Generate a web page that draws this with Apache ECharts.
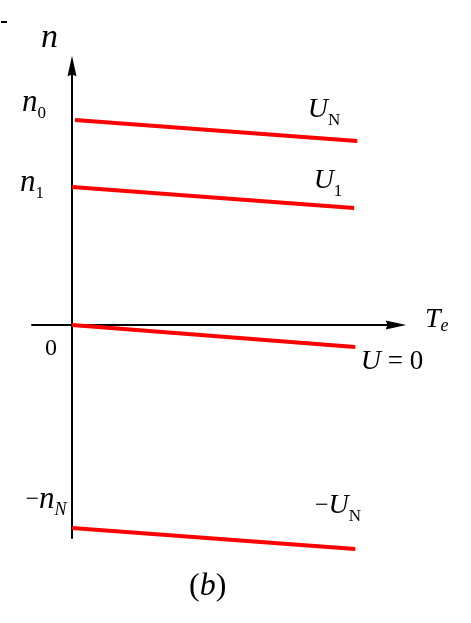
<!DOCTYPE html>
<html>
<head>
<meta charset="utf-8">
<script src="https://cdn.jsdelivr.net/npm/echarts@6/dist/echarts.min.js"></script>
<style>
  html, body { margin: 0; padding: 0; background: #fff; }
  #chart { width: 471px; height: 623px; }
</style>
</head>
<body>
<div id="chart"></div>
<script>
  // mechanical characteristics n = f(Te) for several armature voltages
  const curveNames = ['U_N', 'U_1', 'U=0', '-U_N']
  const startTorque = [0.03, 0, 0, 0]
  const endTorque = [2.85, 2.82, 2.83, 2.83]
  const startSpeed = [2.05, 1.38, 0, -2.03]
  const endSpeed = [1.84, 1.17, -0.22, -2.24]
  const speedLabels = ['{i|n}{s|0}', '{i|n}{s|1}', '{z|0}', '{m|−}{i|n}{si|N}']
  const curveLabels = ['{u|U}{s|N}', '{u|U}{s|1}', '{u|U}{r| = 0}', '{m|−}{u|U}{s|N}']

  const SERIF = '"Liberation Serif", "DejaVu Serif", serif'
  const rich = {
    i: { fontFamily: SERIF, fontStyle: 'italic', fontSize: 31, lineHeight: 38, color: '#000' },
    u: { fontFamily: SERIF, fontStyle: 'italic', fontSize: 28, lineHeight: 38, color: '#000' },
    r: { fontFamily: SERIF, fontSize: 27, lineHeight: 38, color: '#000' },
    z: { fontFamily: SERIF, fontSize: 24, lineHeight: 38, color: '#000' },
    m: { fontFamily: SERIF, fontSize: 24, lineHeight: 38, color: '#000' },
    s: { fontFamily: SERIF, fontSize: 17, lineHeight: 16, verticalAlign: 'bottom', color: '#000' },
    si: { fontFamily: SERIF, fontStyle: 'italic', fontSize: 18, lineHeight: 16, verticalAlign: 'bottom', color: '#000' }
  }
  const startOffsets = [[-41, -17], [-40, -4], [-21, 24], [-26, -28]]
  const endOffsets = [[-33, -31], [-26, -27], [37, 15], [-17, -43]]

  const arrow = 'path://M5,0 L10,23 L5,21 L0,23 Z'

  const chart = echarts.init(document.getElementById('chart'), null, { renderer: 'canvas' })

  var option = {
    animation: false,
    backgroundColor: '#fff',
    title: {
      text: '{r|(}{i|b}{r|)}',
      left: 184,
      top: 562,
      textStyle: {
        fontWeight: 'normal',
        rich: {
          r: { fontFamily: SERIF, fontWeight: 'normal', fontSize: 32, lineHeight: 40, color: '#000' },
          i: { fontFamily: SERIF, fontWeight: 'normal', fontStyle: 'italic', fontSize: 32, lineHeight: 40, color: '#000' }
        }
      }
    },
    graphic: [{
      type: 'rect',
      shape: { x: 1, y: 21, width: 6, height: 2 },
      style: { fill: '#000' }
    }],
    grid: {
      left: 32,
      right: 75,
      top: 66,
      bottom: 85
    },
    xAxis: {
      type: 'value',
      min: -0.4,
      max: 3.24,
      name: '{t|T}{e|e}',
      nameLocation: 'end',
      nameGap: 29,
      nameTextStyle: {
        align: 'left',
        verticalAlign: 'middle',
        padding: [0, 0, 10, 0],
        rich: {
          t: { fontFamily: SERIF, fontStyle: 'italic', fontSize: 28, lineHeight: 30, color: '#000' },
          e: { fontFamily: SERIF, fontStyle: 'italic', fontSize: 18, lineHeight: 14, verticalAlign: 'bottom', color: '#000' }
        }
      },
      axisLine: {
        onZero: true,
        symbol: ['none', arrow],
        symbolSize: [9, 23],
        lineStyle: { color: '#000', width: 2 }
      },
      axisTick: { show: false },
      axisLabel: { show: false },
      splitLine: { show: false }
    },
    yAxis: {
      type: 'value',
      min: -2.13,
      max: 2.59,
      name: 'n',
      nameLocation: 'end',
      nameGap: 11,
      nameTextStyle: {
        fontFamily: SERIF,
        fontStyle: 'italic',
        fontSize: 34,
        lineHeight: 34,
        color: '#000',
        align: 'center',
        verticalAlign: 'bottom',
        padding: [0, 45, 0, 0]
      },
      axisLine: {
        onZero: true,
        symbol: ['none', arrow],
        symbolSize: [9, 23],
        lineStyle: { color: '#000', width: 2 }
      },
      axisTick: { show: false },
      axisLabel: { show: false },
      splitLine: { show: false }
    },
    series: curveNames.map((name, i) => ({
      type: 'line',
      name: name,
      clip: false,
      silent: true,
      symbol: 'circle',
      symbolSize: 1,
      showSymbol: true,
      lineStyle: { color: '#ff0000', width: 4 },
      itemStyle: { color: '#ff0000' },
      label: {
        show: true,
        position: 'inside',
        align: 'center',
        verticalAlign: 'middle',
        rich: rich
      },
      data: [
        { value: [startTorque[i], startSpeed[i]], label: { formatter: speedLabels[i], offset: startOffsets[i] } },
        { value: [endTorque[i], endSpeed[i]], label: { formatter: curveLabels[i], offset: endOffsets[i] } }
      ]
    }))
  }
  chart.setOption(option)
</script>
</body>
</html>
